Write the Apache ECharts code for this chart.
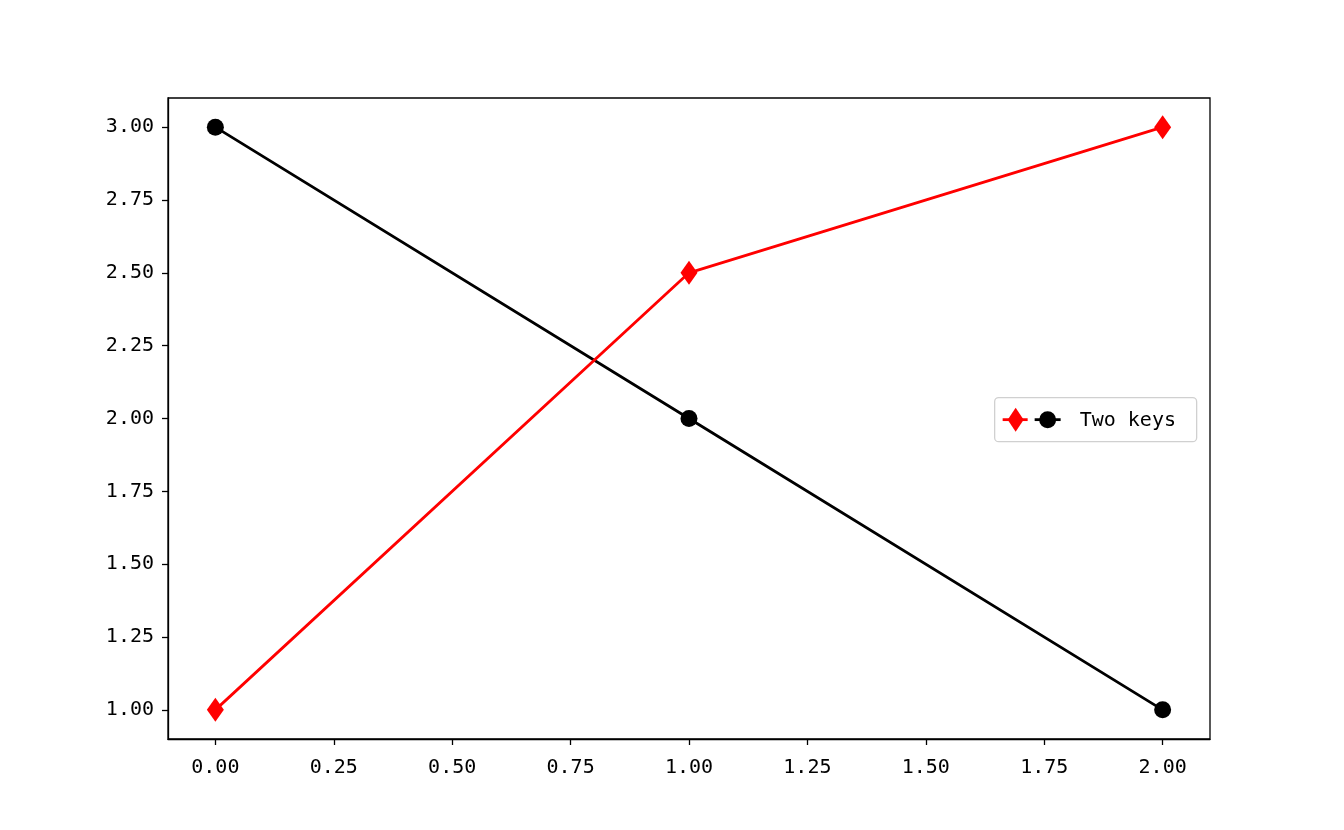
<!DOCTYPE html>
<html><head><meta charset="utf-8">
<script src="https://cdn.jsdelivr.net/npm/echarts@6/dist/echarts.min.js"></script>
<style>html,body{margin:0;padding:0;background:#fff}#c{width:1344px;height:830px}</style>
</head><body><div id="c"></div>
<script>
const xValues = [0, 1, 2];
const redValues = [1.0, 2.5, 3.0];
const blackValues = [3.0, 2.0, 1.0];
const xTicks = [0, 0.25, 0.5, 0.75, 1.0, 1.25, 1.5, 1.75, 2.0];
const yTicks = [1.0, 1.25, 1.5, 1.75, 2.0, 2.25, 2.5, 2.75, 3.0];
const legendLabel = 'Two keys';

const font = '"DejaVu Sans Mono", monospace';
const chart = echarts.init(document.getElementById('c'));
const gL = 168, gT = 98, gW = 1042, gH = 641;
chart.setOption({
  animation: false,
  grid: {left: gL, top: gT, width: gW, height: gH, show: true, borderColor: '#000', borderWidth: 1.3, backgroundColor: 'transparent'},
  xAxis: {
    type: 'value', min: -0.1, max: 2.1,
    axisLine: {show: true, onZero: false, lineStyle: {color: '#000', width: 1.3}},
    axisTick: {show: true, length: 6, lineStyle: {color: '#000', width: 1.3}, customValues: xTicks},
    axisLabel: {customValues: xTicks, formatter: v => v.toFixed(2), color: '#000', fontSize: 20, fontFamily: font, margin: 19},
    splitLine: {show: false}
  },
  yAxis: {
    type: 'value', min: 0.9, max: 3.1,
    axisLine: {show: true, onZero: false, lineStyle: {color: '#000', width: 1.3}},
    axisTick: {show: true, length: 6, lineStyle: {color: '#000', width: 1.3}, customValues: yTicks},
    axisLabel: {customValues: yTicks, formatter: v => v.toFixed(2), color: '#000', fontSize: 20, fontFamily: font, margin: 14, padding: [4, 0, 0, 0]},
    splitLine: {show: false}
  },
  series: [
    {type: 'line', name: 'red', data: xValues.map((x, i) => [x, redValues[i]]),
     symbol: 'diamond', symbolSize: [17, 24], itemStyle: {color: '#ff0000'},
     lineStyle: {color: '#ff0000', width: 2.8}, z: 3},
    {type: 'line', name: legendLabel, data: xValues.map((x, i) => [x, blackValues[i]]),
     symbol: 'circle', symbolSize: 17, itemStyle: {color: '#000'},
     lineStyle: {color: '#000', width: 2.8}, z: 2}
  ],
  graphic: [{
    type: 'group', left: 994, top: 397,
    children: [
      {type: 'rect', shape: {x: 0, y: 0, width: 202, height: 44, r: 4}, style: {fill: 'rgba(255,255,255,0.8)', stroke: '#d0d0d0', lineWidth: 1.3}},
      {type: 'line', shape: {x1: 8, y1: 22, x2: 33, y2: 22}, style: {stroke: '#ff0000', lineWidth: 2.8}},
      {type: 'polygon', shape: {points: [[21, 10], [29, 22], [21, 34], [13, 22]]}, style: {fill: '#ff0000'}},
      {type: 'line', shape: {x1: 40, y1: 22, x2: 66, y2: 22}, style: {stroke: '#000', lineWidth: 2.8}},
      {type: 'circle', shape: {cx: 53, cy: 22, r: 8.5}, style: {fill: '#000'}},
      {type: 'text', x: 85, y: 23, style: {text: legendLabel, fill: '#000', font: '20px ' + font, verticalAlign: 'middle'}}
    ]
  }]
});
</script></body></html>
